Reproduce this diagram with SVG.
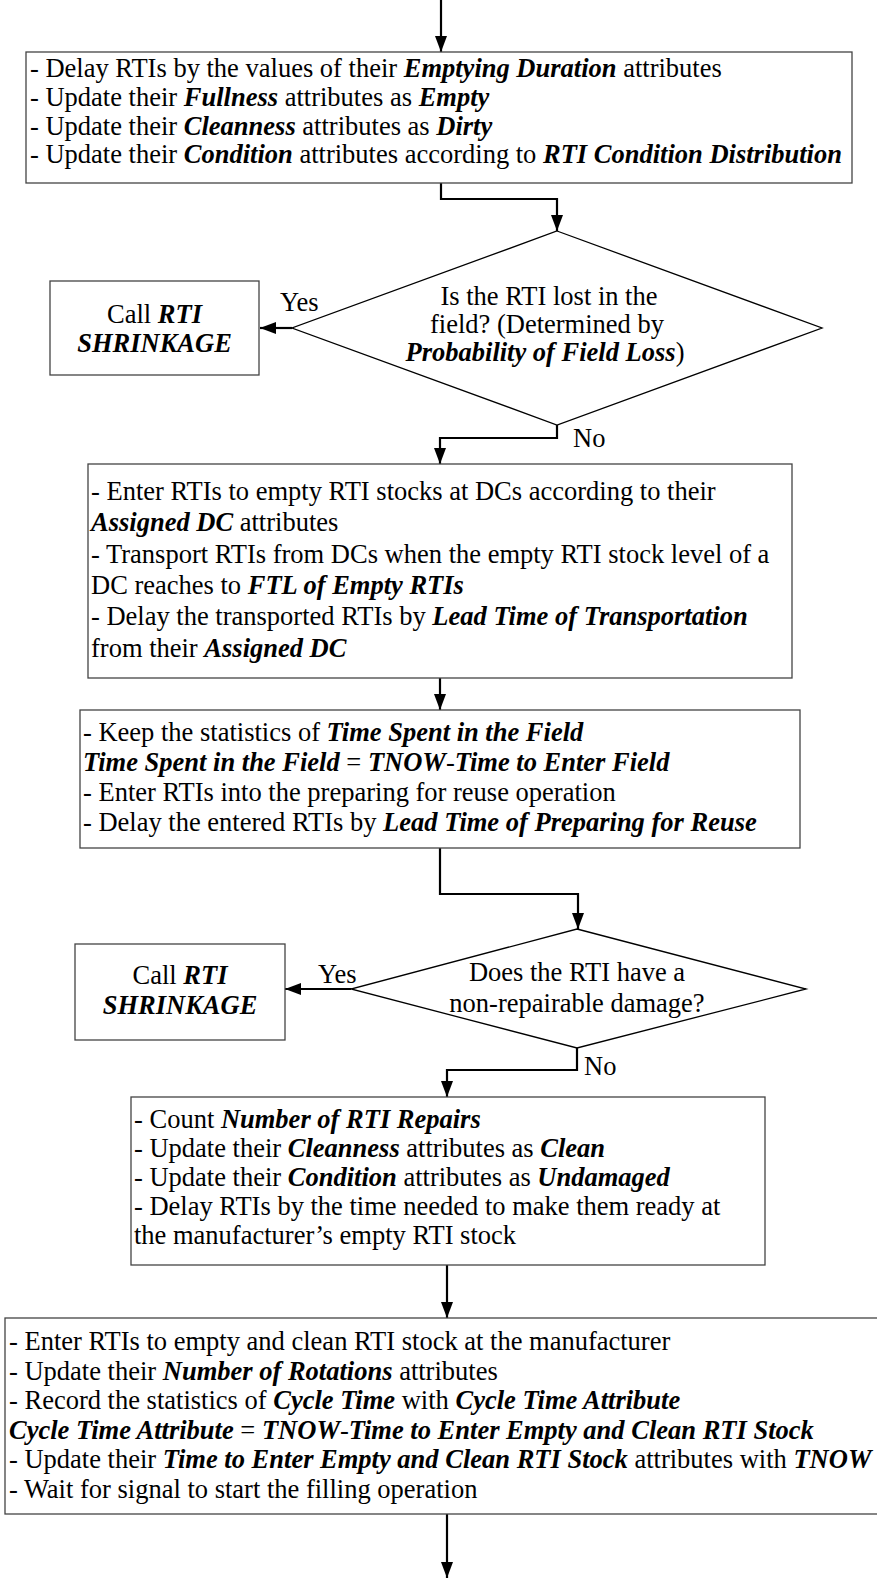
<svg xmlns="http://www.w3.org/2000/svg" width="877" height="1579" viewBox="0 0 877 1579">
  <style>
    .box { fill: #fff; stroke: #444; stroke-width: 1.3; }
    .dia { fill: #fff; stroke: #000; stroke-width: 1.3; }
    .conn { fill: none; stroke: #000; stroke-width: 2.2; }
    text { font-family: "Liberation Serif", "Times New Roman", serif; font-size: 26.5px; fill: #000; }
    .bi { font-weight: bold; font-style: italic; }
    .mid { text-anchor: middle; }
  </style>
  <defs>
    <marker id="arrow" markerUnits="userSpaceOnUse" markerWidth="16" markerHeight="12" refX="16" refY="6" orient="auto">
      <path d="M0,0 L16,6 L0,12 z" fill="#000"/>
    </marker>
  </defs>
  <rect width="877" height="1579" fill="#fff"/>

  <!-- connectors -->
  <g id="connectors">
    <path class="conn" d="M441,0 V52" marker-end="url(#arrow)"/>
    <path class="conn" d="M441,183 V199 H557 V231" marker-end="url(#arrow)"/>
    <path class="conn" d="M292,328 H260" marker-end="url(#arrow)"/>
    <path class="conn" d="M557,425 V438 H440 V464" marker-end="url(#arrow)"/>
    <path class="conn" d="M440,678 V710" marker-end="url(#arrow)"/>
    <path class="conn" d="M440,848 V894 H578 V929" marker-end="url(#arrow)"/>
    <path class="conn" d="M351,989 H285" marker-end="url(#arrow)"/>
    <path class="conn" d="M577,1048 V1070 H447 V1097" marker-end="url(#arrow)"/>
    <path class="conn" d="M447,1265 V1318" marker-end="url(#arrow)"/>
    <path class="conn" d="M447,1514 V1578" marker-end="url(#arrow)"/>
    <text x="280" y="311">Yes</text>
    <text x="573" y="447">No</text>
    <text x="318" y="983">Yes</text>
    <text x="584" y="1075">No</text>
  </g>

  <!-- emptying step -->
  <g id="emptying">
    <rect class="box" x="26" y="52" width="826" height="131"/>
    <text x="30" y="77">- Delay RTIs by the values of their <tspan class="bi">Emptying Duration</tspan> attributes</text>
    <text x="30" y="106">- Update their <tspan class="bi">Fullness</tspan> attributes as <tspan class="bi">Empty</tspan></text>
    <text x="30" y="135">- Update their <tspan class="bi">Cleanness</tspan> attributes as <tspan class="bi">Dirty</tspan></text>
    <text x="30" y="163">- Update their <tspan class="bi">Condition</tspan> attributes according to <tspan class="bi">RTI Condition Distribution</tspan></text>
  </g>

  <!-- field loss decision -->
  <g id="field-loss">
    <polygon class="dia" points="557,231 822,328 557,425 292,328"/>
    <text class="mid" x="549" y="305">Is the RTI lost in the</text>
    <text class="mid" x="547" y="333">field? (Determined by</text>
    <text class="mid" x="545" y="361"><tspan class="bi">Probability of Field Loss</tspan>)</text>
  </g>

  <g id="shrinkage-1">
    <rect class="box" x="50" y="281" width="209" height="94"/>
    <text class="mid" x="154.5" y="323">Call <tspan class="bi">RTI</tspan></text>
    <text class="mid bi" x="154.5" y="352">SHRINKAGE</text>
  </g>

  <!-- transport to DCs -->
  <g id="transport">
    <rect class="box" x="88" y="464" width="704" height="214"/>
    <text x="91" y="500">- Enter RTIs to empty RTI stocks at DCs according to their</text>
    <text x="91" y="531"><tspan class="bi">Assigned DC</tspan> attributes</text>
    <text x="91" y="563">- Transport RTIs from DCs when the empty RTI stock level of a</text>
    <text x="91" y="594">DC reaches to <tspan class="bi">FTL of Empty RTIs</tspan></text>
    <text x="91" y="625">- Delay the transported RTIs by <tspan class="bi">Lead Time of Transportation</tspan></text>
    <text x="91" y="657">from their <tspan class="bi">Assigned DC</tspan></text>
  </g>

  <!-- preparing for reuse -->
  <g id="preparing">
    <rect class="box" x="80" y="710" width="720" height="138"/>
    <text x="83" y="741">- Keep the statistics of <tspan class="bi">Time Spent in the Field</tspan></text>
    <text x="83" y="771"><tspan class="bi">Time Spent in the Field</tspan> = <tspan class="bi">TNOW</tspan>-<tspan class="bi">Time to Enter Field</tspan></text>
    <text x="83" y="801">- Enter RTIs into the preparing for reuse operation</text>
    <text x="83" y="831">- Delay the entered RTIs by <tspan class="bi">Lead Time of Preparing for Reuse</tspan></text>
  </g>

  <!-- damage decision -->
  <g id="damage">
    <polygon class="dia" points="577,929 806,989 577,1048 351,989"/>
    <text class="mid" x="577" y="981">Does the RTI have a</text>
    <text class="mid" x="577" y="1012">non-repairable damage?</text>
  </g>

  <g id="shrinkage-2">
    <rect class="box" x="75" y="944" width="210" height="96"/>
    <text class="mid" x="180" y="984">Call <tspan class="bi">RTI</tspan></text>
    <text class="mid bi" x="180" y="1014">SHRINKAGE</text>
  </g>

  <!-- repair -->
  <g id="repair">
    <rect class="box" x="131" y="1097" width="634" height="168"/>
    <text x="134" y="1128">- Count <tspan class="bi">Number of RTI Repairs</tspan></text>
    <text x="134" y="1157">- Update their <tspan class="bi">Cleanness</tspan> attributes as <tspan class="bi">Clean</tspan></text>
    <text x="134" y="1186">- Update their <tspan class="bi">Condition</tspan> attributes as <tspan class="bi">Undamaged</tspan></text>
    <text x="134" y="1215">- Delay RTIs by the time needed to make them ready at</text>
    <text x="134" y="1244">the manufacturer’s empty RTI stock</text>
  </g>

  <!-- empty and clean stock -->
  <g id="stock">
    <rect class="box" x="5" y="1318" width="890" height="196"/>
    <text x="9" y="1350">- Enter RTIs to empty and clean RTI stock at the manufacturer</text>
    <text x="9" y="1379.5">- Update their <tspan class="bi">Number of Rotations</tspan> attributes</text>
    <text x="9" y="1409">- Record the statistics of <tspan class="bi">Cycle Time</tspan> with <tspan class="bi">Cycle Time Attribute</tspan></text>
    <text x="9" y="1438.5"><tspan class="bi">Cycle Time Attribute</tspan> = <tspan class="bi">TNOW</tspan>-<tspan class="bi">Time to Enter Empty and Clean RTI Stock</tspan></text>
    <text x="9" y="1468">- Update their <tspan class="bi">Time to Enter Empty and Clean RTI Stock</tspan> attributes with <tspan class="bi">TNOW</tspan></text>
    <text x="9" y="1497.5">- Wait for signal to start the filling operation</text>
  </g>
</svg>
